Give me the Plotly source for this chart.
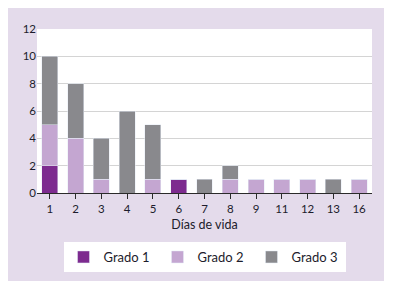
import plotly.graph_objects as go

dias = ["1", "2", "3", "4", "5", "6", "7", "8", "9", "11", "12", "13", "16"]
grado1 = [2, 0, 0, 0, 0, 1, 0, 0, 0, 0, 0, 0, 0]
grado2 = [3, 4, 1, 0, 1, 0, 0, 1, 1, 1, 1, 0, 1]
grado3 = [5, 4, 3, 6, 4, 0, 1, 1, 0, 0, 0, 1, 0]
y_ticks = [0, 2, 4, 6, 8, 10, 12]

FONT = "Lato, 'Open Sans', sans-serif"
TXT = "#1c1c2c"

fig = go.Figure()
fig.add_trace(go.Bar(x=dias, y=grado1, name="Grado 1", marker_color="#7d2b8f"))
fig.add_trace(go.Bar(x=dias, y=grado2, name="Grado 2", marker_color="#c4a6d1"))
fig.add_trace(go.Bar(x=dias, y=grado3, name="Grado 3", marker_color="#89898d"))

W, H = 376, 273
L, R, T, B = 29, 12, 21, 88
ph = H - T - B

fig.update_layout(
    width=W, height=H,
    margin=dict(l=L, r=R, t=T, b=B, autoexpand=False),
    barmode="stack", bargap=0.38,
    paper_bgcolor="#e4dbeb", plot_bgcolor="white",
    font=dict(family=FONT, size=12, color=TXT),
    showlegend=True,
    legend=dict(orientation="h", x=0.5, xanchor="center", y=(H - B - 234) / ph, yanchor="top",
                bgcolor="white", font=dict(size=13, color=TXT),
                entrywidth=49, entrywidthmode="pixels", traceorder="normal"),
)
fig.update_xaxes(type="category", showline=True, linecolor="#2a2a2a", linewidth=1.2,
                 ticks="outside", ticklen=5, tickcolor="#2a2a2a", showgrid=False,
                 title=dict(text="Días de vida", font=dict(size=12.5, color=TXT), standoff=6),
                 tickfont=dict(size=11.5, color=TXT))
fig.update_yaxes(range=[0, 12], tickvals=y_ticks, showgrid=True, gridcolor="#d4d4d4",
                 zeroline=False, showline=False, ticks="", tickfont=dict(size=11.5, color=TXT))

fig.write_html("out.html")
